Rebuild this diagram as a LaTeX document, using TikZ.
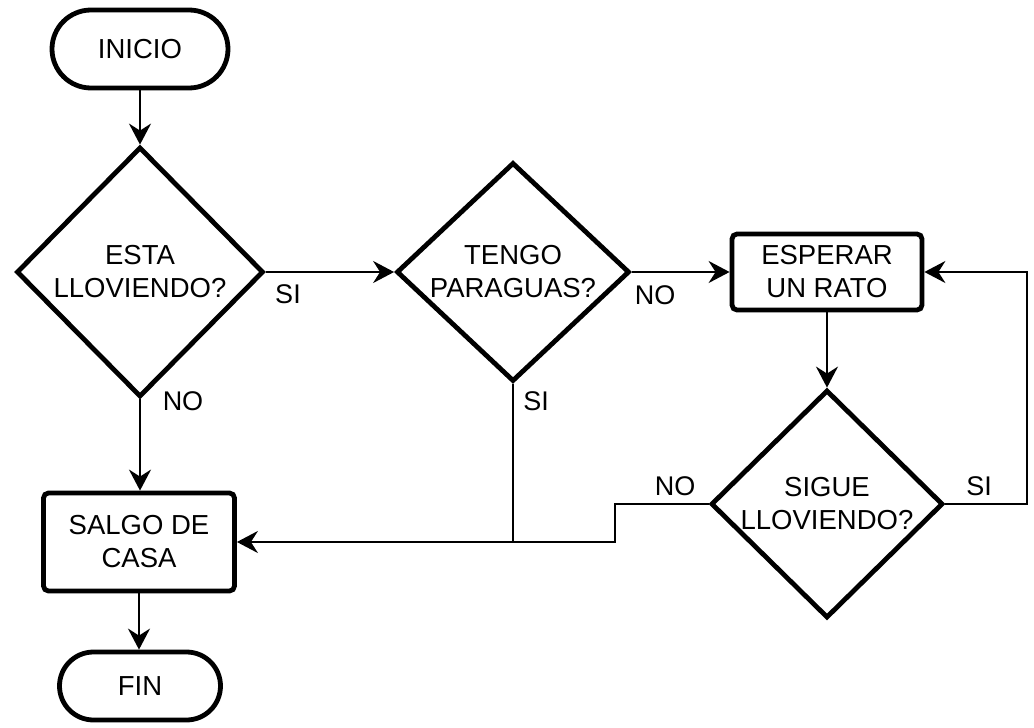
\documentclass[tikz,border=0pt]{standalone}
\usepackage{fontspec}
\setmainfont{Liberation Sans}
\usetikzlibrary{shapes.geometric,arrows.meta}
\begin{document}
\begin{tikzpicture}[x=1pt,y=-1pt,
  txt/.style={font=\fontsize{27.5}{33}\selectfont, align=center, inner sep=0pt},
  lbl/.style={font=\fontsize{27}{32}\selectfont, inner sep=0pt},
  term/.style={txt, draw, line width=4.8pt, rectangle},
  proc/.style={txt, draw, line width=4.8pt, rectangle, rounded corners=5pt},
  dec/.style={txt, draw, line width=4.8pt, diamond, aspect=1},
  arr/.style={line width=2.4pt, -{Stealth[length=21pt, width=22pt, inset=7pt]}},
  conn/.style={line width=2.4pt}
]
\useasboundingbox (0,0) rectangle (1034,728);

\node[term, minimum width=176pt, minimum height=78pt, rounded corners=39pt] (ini) at (140,49) {INICIO};
\node[dec, minimum width=247pt, minimum height=250pt] (d1) at (140,272) {ESTA\\LLOVIENDO?};
\node[dec, minimum width=233pt, minimum height=219pt] (d2) at (513,272) {TENGO\\PARAGUAS?};
\node[proc, minimum width=190pt, minimum height=76pt] (esp) at (827,272) {ESPERAR\\UN RATO};
\node[dec, minimum width=232pt, minimum height=228pt] (d3) at (827,504) {SIGUE\\LLOVIENDO?};
\node[proc, minimum width=191pt, minimum height=98pt] (sal) at (139,542) {SALGO DE\\CASA};
\node[term, minimum width=161pt, minimum height=68pt, rounded corners=34pt] (fin) at (140,686) {FIN};

\coordinate (r1) at (1027,504);
\coordinate (l1) at (615,504);

\draw[arr] (ini) -- (d1);
\draw[arr] (d1) -- (d2);
\draw[arr] (d2) -- (esp);
\draw[arr] (esp) -- (d3);
\draw[arr] (d3.east) -- (r1) |- (esp.east);
\draw[arr] (d3.west) -- (l1) |- (sal.east);
\draw[conn] (d2.south) -- (d2.south |- sal.east);
\draw[arr] (d1.south) -- (d1.south |- sal.north);
\draw[arr] (sal.south) -- (sal.south |- fin.north);

\node[lbl] (l_si1) at (288,294) {SI};
\node[lbl] (l_no1) at (183,401) {NO};
\node[lbl] (l_no2) at (655,295) {NO};
\node[lbl] (l_si2) at (536,401) {SI};
\node[lbl] (l_no3) at (675,486) {NO};
\node[lbl] (l_si3) at (979,486) {SI};
\end{tikzpicture}
\end{document}
